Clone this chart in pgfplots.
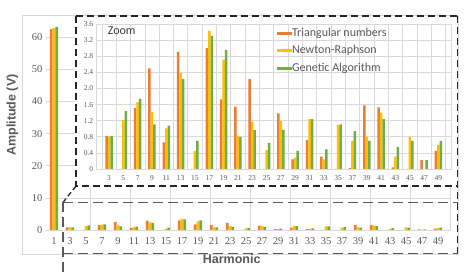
\documentclass[border=0pt]{standalone}
\usepackage{fontspec}
\setmainfont{Liberation Serif}
\newfontfamily\carlito{Carlito}
\newfontfamily\arialf{Liberation Sans}
\usepackage{pgfplots}
\usepackage{pgfplotstable}
\pgfplotsset{compat=1.18}
\definecolor{cT}{HTML}{ED7D31}
\definecolor{cN}{HTML}{FFC000}
\definecolor{cG}{HTML}{70AD47}
\definecolor{txt}{HTML}{595959}
\definecolor{gridc}{HTML}{D9D9D9}
\definecolor{dash1}{HTML}{262626}
\definecolor{dash2}{HTML}{595959}

\pgfplotstableread{
h T N G
1 62.5 62.8 63.2
3 0.82 0.80 0.82
5 0 1.22 1.44
7 1.51 1.66 1.74
9 2.50 1.41 1.11
11 0.66 1.01 1.08
13 2.91 2.38 2.24
15 0 0.45 0.70
17 3.00 3.43 3.31
19 1.73 2.71 2.96
21 1.55 0.83 0.79
23 2.23 1.18 0.97
25 0 0.47 0.65
27 1.38 1.19 0.97
29 0.24 0.28 0.45
31 0.72 1.24 1.24
33 0.31 0.24 0.49
35 0 1.09 1.11
37 0.02 0.70 0.94
39 1.58 0.80 0.70
41 1.53 1.40 1.24
43 0.04 0.31 0.55
45 0 0.79 0.70
47 0.22 0 0.22
49 0.45 0.60 0.70
}\datatab

\begin{document}
\begin{tikzpicture}[x=1pt,y=1pt]
\path[use as bounding box] (0,0) rectangle (475,276);
\draw[gridc, line width=0.6pt] (22,261) rectangle (458,22);
\begin{axis}[at={(46pt,46pt)}, anchor=south west, scale only axis,
  width=404pt, height=214pt,
  xmin=-0.5, xmax=24.75, ymin=0, ymax=66.6,
  ybar=0pt, bar width=2.7pt,
  axis line style={draw=none}, major tick length=0pt,
  xtick={0,...,24},
  xticklabels={1,3,5,7,9,11,13,15,17,19,21,23,25,27,29,31,33,35,37,39,41,43,45,47,49},
  ytick={0,10,20,30,40,50,60},
  ymajorgrids, grid style={gridc, line width=0.6pt},
  extra x ticks={2.25,4.75,7.25,9.75,12.25,14.75,17.25,19.75,22.25,24.75},
  extra x tick labels={},
  extra x tick style={grid=major},
  ticklabel style={font=\fontsize{10.5}{12}\selectfont, text=txt},
  /pgf/number format/assume math mode=true,
  xticklabel style={yshift=-4pt},
  xlabel={Harmonic}, ylabel={Amplitude (V)},
  xlabel style={at={(axis description cs:0.4597,-0.138)}, anchor=center, font=\arialf\bfseries\fontsize{12.5}{14}\selectfont, text=txt},
  ylabel style={at={(axis description cs:-0.083,0.537)}, anchor=center, font=\arialf\bfseries\fontsize{12.5}{14}\selectfont, text=txt},
]
\addplot[fill=cT, draw=none] table[x expr=\coordindex, y=T]{\datatab};
\addplot[fill=cN, draw=none] table[x expr=\coordindex, y=N]{\datatab};
\addplot[fill=cG, draw=none] table[x expr=\coordindex, y=G]{\datatab};
\end{axis}

\fill[white] (76,260) rectangle (458,90);

\begin{axis}[at={(96.7pt,107pt)}, anchor=south west, scale only axis,
  width=354.3pt, height=144.9pt,
  xmin=-0.86, xmax=23.88, ymin=0, ymax=3.6,
  ybar=0pt, bar width=2.5pt,
  axis line style={gridc, line width=0.6pt}, major tick length=0pt, minor tick length=0pt,
  xtick={0,...,23},
  xticklabels={3,5,7,9,11,13,15,17,19,21,23,25,27,29,31,33,35,37,39,41,43,45,47,49},
  ytick={0,0.4,0.8,1.2,1.6,2.0,2.4,2.8,3.2,3.6},
  yticklabels={0,0.4,0.8,1.2,1.6,2.0,2.4,2.8,3.2,3.6},
  minor xtick={-0.5,0.5,1.5,2.5,3.5,4.5,5.5,6.5,7.5,8.5,9.5,10.5,11.5,12.5,13.5,14.5,15.5,16.5,17.5,18.5,19.5,20.5,21.5,22.5,23.5},
  ymajorgrids, xminorgrids,
  grid style={gridc, line width=0.6pt},
  minor grid style={gridc, line width=0.6pt},
  ticklabel style={font=\fontsize{7.5}{9}\selectfont, text=txt},
  xticklabel style={yshift=-3pt},
  legend image code/.code={\fill[#1] (0pt,-1.6pt) rectangle (15pt,1.6pt);},
  legend cell align=left,
  legend style={at={(axis description cs:0.509,0.9786)}, anchor=north west,
    draw=none, fill=none, inner sep=0pt, outer sep=0pt,
    font=\carlito\fontsize{12}{14}\selectfont, text=txt,
    row sep=5.7pt,
    nodes={inner sep=0pt, text height=9pt, text depth=3pt}},
]
\addplot[fill=cT, draw=none, skip coords between index={0}{1}] table[x expr=\coordindex-1, y=T]{\datatab};
\addplot[fill=cN, draw=none, skip coords between index={0}{1}] table[x expr=\coordindex-1, y=N]{\datatab};
\addplot[fill=cG, draw=none, skip coords between index={0}{1}] table[x expr=\coordindex-1, y=G]{\datatab};
\legend{Triangular numbers, Newton-Raphson, Genetic Algorithm}
\end{axis}

\node[anchor=west, inner sep=0pt, font=\carlito\fontsize{12}{14}\selectfont, text=dash1!90] at (107.7,245.5) {Zoom};

% dashed boxes
\draw[dash1, line width=1.5pt, dash pattern=on 7pt off 4pt] (76,260) -- (457.5,260);
\draw[dash1, line width=1.5pt, dash pattern=on 7pt off 4pt] (76,260) -- (76,90) -- (457.5,90);
\draw[dash1, line width=1.5pt, dash pattern=on 7pt off 4pt] (457.5,260) -- (457.5,23);
\draw[dash1, line width=1.3pt, dash pattern=on 5pt off 3pt] (63,73.5) -- (76,90);
\draw[dash2, line width=1.8pt, dash pattern=on 10pt off 5pt] (63,73.5) -- (457.5,73.5);
\draw[dash2, line width=1.8pt, dash pattern=on 10pt off 5pt] (63,73.5) -- (63,2);
\draw[dash2, line width=1.8pt, dash pattern=on 10pt off 5pt] (63,22.5) -- (457.5,22.5);
\end{tikzpicture}
\end{document}
